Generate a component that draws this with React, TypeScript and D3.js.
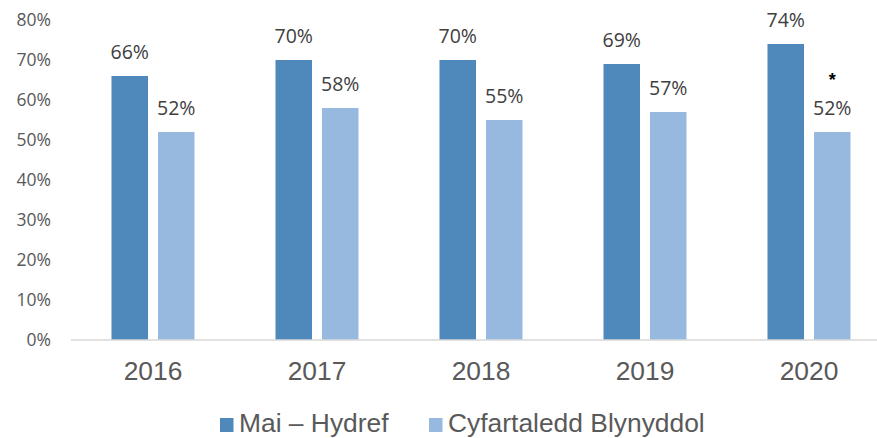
import React from "react";
import * as d3 from "d3";

const years = ["2016", "2017", "2018", "2019", "2020"];
const series = ["Mai – Hydref", "Cyfartaledd Blynyddol"];
const maiHydref = [66, 70, 70, 69, 74];
const blynyddol = [52, 58, 55, 57, 52];
const yTicks = [0, 10, 20, 30, 40, 50, 60, 70, 80];
const colors = ["#4f88bb", "#98b9df"];
const starred = [{ year: "2020", series: 1 }];

export default function App() {
  const W = 877, H = 438;
  const x = d3.scaleBand().domain(years).range([71, 891]).paddingInner(0).paddingOuter(0);
  const y = d3.scaleLinear().domain([0, 80]).range([340, 20]);
  const bw = 36.5, gap = 10;
  const values = [maiHydref, blynyddol];
  const labelFont = "'Open Sans', sans-serif";
  const arial = "'Liberation Sans', Arial, sans-serif";
  return (
    <svg width={W} height={H} style={{ position: "absolute", left: 0, top: 0, background: "#fff" }}>
      {yTicks.map((t) => (
        <text key={t} x={51} y={y(t)} dy="0.36em" textAnchor="end" fontFamily={labelFont} fontSize={17.5} fill="#595959">
          {t}%
        </text>
      ))}
      {years.map((yr, i) => {
        const c = (x(yr) as number) + x.bandwidth() / 2;
        return (
          <g key={yr}>
            {values.map((vals, s) => {
              const x0 = s === 0 ? c - gap / 2 - bw : c + gap / 2;
              const v = vals[i];
              return (
                <g key={s}>
                  <rect x={x0} y={y(v)} width={bw} height={y(0) - y(v)} fill={colors[s]} />
                  <text x={x0 + bw / 2} y={y(v) - 17} textAnchor="middle" fontFamily={labelFont} fontSize={19.5} fill="#404040">
                    {v}%
                  </text>
                  {starred.some((st) => st.year === yr && st.series === s) && (
                    <text x={x0 + bw / 2} y={y(v) - 46} textAnchor="middle" fontFamily={arial} fontWeight="bold" fontSize={18} fill="#000">
                      *
                    </text>
                  )}
                </g>
              );
            })}
            <text x={c} y={380} textAnchor="middle" fontFamily={arial} fontSize={26.4} fill="#595959">
              {yr}
            </text>
          </g>
        );
      })}
      <line x1={71} x2={891} y1={y(0)} y2={y(0)} stroke="#d9d9d9" strokeWidth={1.5} />
      <g>
        <rect x={220} y={418} width={13.5} height={14} fill={colors[0]} />
        <text x={239} y={432} fontFamily={arial} fontSize={26.4} fill="#595959">{series[0]}</text>
        <rect x={429} y={418} width={13.5} height={14} fill={colors[1]} />
        <text x={448} y={432} fontFamily={arial} fontSize={26.4} fill="#595959">{series[1]}</text>
      </g>
    </svg>
  );
}
